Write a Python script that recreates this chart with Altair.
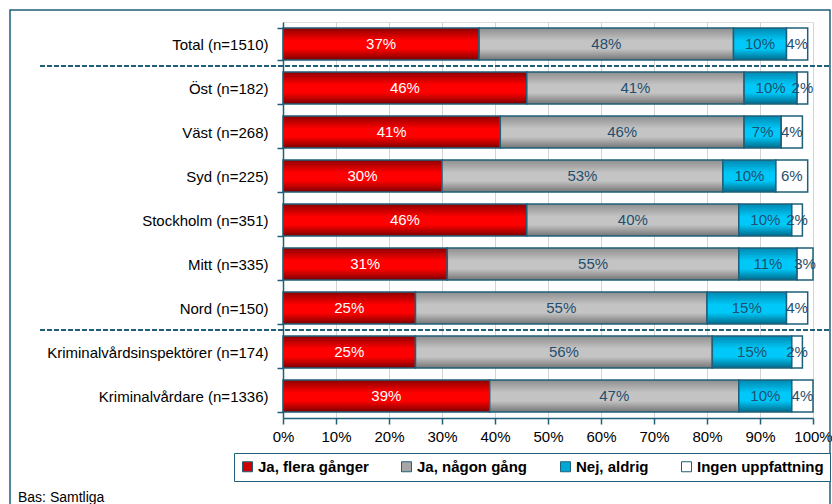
import altair as alt
import pandas as pd

# Survey answers per group (percent)
categories = [
    "Total (n=1510)",
    "Öst (n=182)",
    "Väst (n=268)",
    "Syd (n=225)",
    "Stockholm (n=351)",
    "Mitt (n=335)",
    "Nord (n=150)",
    "Kriminalvårdsinspektörer (n=174)",
    "Kriminalvårdare (n=1336)",
]
series = ["Ja, flera gånger", "Ja, någon gång", "Nej, aldrig", "Ingen uppfattning"]
flera_ganger = [37, 46, 41, 30, 46, 31, 25, 25, 39]
nagon_gang = [48, 41, 46, 53, 40, 55, 55, 56, 47]
aldrig = [10, 10, 7, 10, 10, 11, 15, 15, 10]
ingen_uppfattning = [4, 2, 4, 6, 2, 3, 4, 2, 4]
separator_after = ["Total (n=1510)", "Nord (n=150)"]
x_ticks = list(range(0, 101, 10))

FONT = "Liberation Sans"
TEAL = "#1F5F7A"
LABEL_TEAL = "#1F4E6E"

# Long table with stacked start/end for each segment
rows = []
for i, cat in enumerate(categories):
    start = 0
    for s, vals in zip(series, [flera_ganger, nagon_gang, aldrig, ingen_uppfattning]):
        v = vals[i]
        rows.append({"cat": cat, "series": s, "value": v, "start": start,
                     "end": start + v, "mid": start + v / 2,
                     "label": f"{v}%"})
        start += v
df = pd.DataFrame(rows)


def grad(edge_top, mid, edge_bottom):
    return alt.LinearGradient(
        gradient="linear", x1=0, x2=0, y1=0, y2=1,
        stops=[
            alt.GradientStop(color=edge_top, offset=0),
            alt.GradientStop(color=mid, offset=0.4),
            alt.GradientStop(color=mid, offset=0.65),
            alt.GradientStop(color=edge_bottom, offset=1),
        ],
    )


fills = {
    "Ja, flera gånger": grad("#8C0000", "#FF0000", "#7A0000"),
    "Ja, någon gång": grad("#8E8E8E", "#C4C4C4", "#747474"),
    "Nej, aldrig": grad("#0088B0", "#00C8F8", "#006A8A"),
    "Ingen uppfattning": "#FFFFFF",
}
flat_colors = ["#D00000", "#A6A6A6", "#00A8D8", "#FFFFFF"]

y_enc = alt.Y(
    "cat:N", sort=categories, title=None,
    scale=alt.Scale(paddingInner=0.27, paddingOuter=0.135),
    axis=alt.Axis(tickBand="extent", tickSize=6, labelPadding=9,
                  labelFontSize=15, labelColor="#000000", labelFont=FONT,
                  labelLimit=400,
                  domainColor=TEAL, tickColor=TEAL, domainWidth=1.5,
                  tickWidth=1.5),
)
x_enc = alt.X(
    "start:Q", title=None,
    scale=alt.Scale(domain=[0, 100], nice=False),
    axis=alt.Axis(values=x_ticks, labelExpr="datum.value + '%'",
                  tickSize=6, labelPadding=5, labelFontSize=15,
                  labelColor="#000000", labelFont=FONT,
                  labelFlush=False, labelOverlap=False,
                  grid=True, gridColor="#D4D4D4", gridWidth=1,
                  domainColor=TEAL, tickColor=TEAL, domainWidth=1.5,
                  tickWidth=1.5),
)

base = alt.Chart(df)

legend_layer = base.mark_bar().encode(
    y=y_enc, x=x_enc, x2="end:Q",
    color=alt.Color(
        "series:N",
        scale=alt.Scale(domain=series, range=flat_colors),
        legend=alt.Legend(
            orient="none", legendX=-49, legendY=431, direction="horizontal",
            title=None, strokeColor=TEAL, fillColor="#FFFFFF", padding=6,
            symbolType="square", symbolSize=100, symbolStrokeColor=TEAL,
            symbolStrokeWidth=1, symbolOpacity=1, labelFont=FONT,
            labelFontSize=15, labelFontWeight="bold", labelColor="#000000",
            columnPadding=30, labelOffset=3, labelLimit=300,
        ),
    ),
)

segment_layers = [
    base.transform_filter(alt.datum.series == s)
    .mark_bar(color=fills[s], stroke=TEAL, strokeWidth=1.5)
    .encode(y=y_enc, x=x_enc, x2="end:Q")
    for s in series
]

labels = base.mark_text(font=FONT, fontSize=15).encode(
    y=y_enc,
    x=alt.X("mid:Q"),
    text="label:N",
    color=alt.condition(alt.datum.series == "Ja, flera gånger",
                        alt.value("#FFFFFF"), alt.value(LABEL_TEAL)),
)

sep_df = pd.DataFrame({"cat": separator_after})
separators = alt.Chart(sep_df).mark_rule(
    color=TEAL, strokeWidth=2, strokeDash=[5, 2], yOffset=22
).encode(y=y_enc, x=alt.value(-243), x2=alt.value(547))

one = pd.DataFrame({"a": [0]})
frame = alt.Chart(one).mark_rect(
    fillOpacity=0, stroke=TEAL, strokeWidth=1.5
).encode(x=alt.value(-273), x2=alt.value(547), y=alt.value(-12), y2=alt.value(520))

footnote = alt.Chart(one).mark_text(
    align="left", baseline="alphabetic", font=FONT, fontSize=14, color="#000000"
).encode(x=alt.value(-265), y=alt.value(480), text=alt.value("Bas: Samtliga"))

chart = alt.layer(
    frame, legend_layer, *segment_layers, labels, separators, footnote
).properties(
    width=530, height=396,
    autosize=alt.AutoSizeParams(type="none"),
    padding={"left": 283, "top": 22, "right": 19, "bottom": 86},
).configure_view(
    stroke=TEAL, strokeWidth=1.5
).configure(background="#FFFFFF")

chart.save("out.html", embed_options={"renderer": "svg", "actions": False})
